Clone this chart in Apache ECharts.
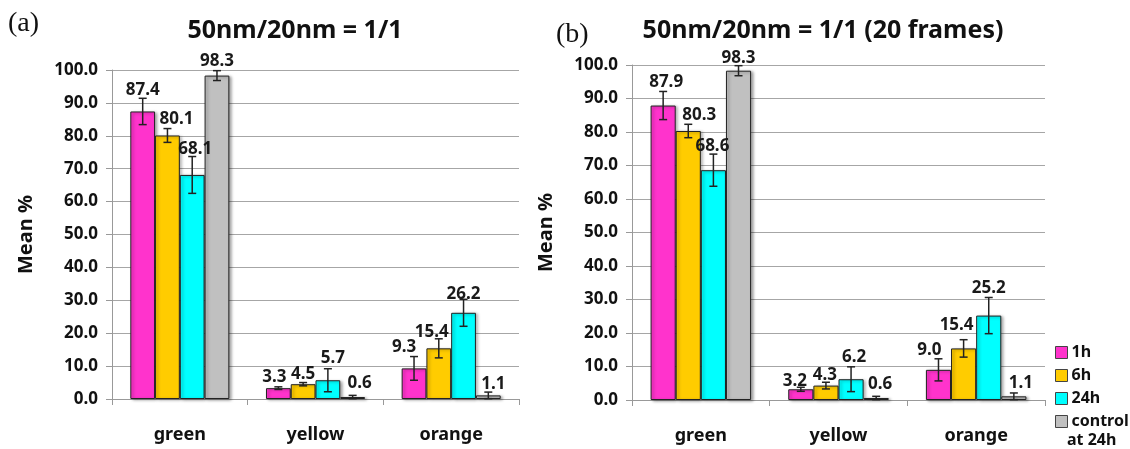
<!DOCTYPE html>
<html>
<head>
<meta charset="utf-8">
<script src="https://cdn.jsdelivr.net/npm/echarts@6/dist/echarts.min.js"></script>
<style>
  html, body { margin: 0; padding: 0; background: #fff; }
  #main { width: 1130px; height: 449px; }
</style>
</head>
<body>
<div id="main"></div>
<script>
// categories and series
var categories = ["green", "yellow", "orange"];
var seriesNames = ["1h", "6h", "24h", "control at 24h"];
var colors = ["#ff33cc", "#ffcc00", "#00ffff", "#c0c0c0"];

// (a) 50nm/20nm = 1/1
var a1h = [87.4, 3.3, 9.3];
var a6h = [80.1, 4.5, 15.4];
var a24h = [68.1, 5.7, 26.2];
var aCtrl = [98.3, 0.6, 1.1];
var aErr1h = [4.0, 0.4, 3.6];
var aErr6h = [2.1, 0.5, 2.9];
var aErr24h = [5.6, 3.5, 4.1];
var aErrCtrl = [1.5, 0.5, 1.0];

// (b) 50nm/20nm = 1/1 (20 frames)
var b1h = [87.9, 3.2, 9.0];
var b6h = [80.3, 4.3, 15.4];
var b24h = [68.6, 6.2, 25.2];
var bCtrl = [98.3, 0.6, 1.1];
var bErr1h = [4.2, 0.6, 3.3];
var bErr6h = [2.0, 1.0, 2.6];
var bErr24h = [4.8, 3.7, 5.4];
var bErrCtrl = [1.5, 0.5, 1.0];

// label nudges [dx, dy] (px) so the value labels sit as in the original
var aShift = [
    [[0, -8], [-4, 3], [-10, -8]],
    [[9, -3], [0, 3], [-7, -3]],
    [[3, -12], [5, -9], [0, -5]],
    [[0, -1], [7, 0], [5, 2]]
];
var bShift = [
    [[3, -10], [-6, 5], [-9, -6]],
    [[11, -2], [-1, 3], [-7, -10]],
    [[-1, -11], [3, -9], [0, -14]],
    [[0, 1], [4, 0], [7, 0]]
];

var gapPct = 27;
var boldFont = "'Noto Sans', 'Open Sans', sans-serif";

function barSeries(name, vals, idx, axisIdx, shifts){
    return {
        name: name,
        type: "bar",
        xAxisIndex: axisIdx,
        yAxisIndex: axisIdx,
        barGap: "0%",
        barCategoryGap: gapPct + "%",
        data: vals.map(function(v, i){
            return { value: v, label: { offset: shifts[i] } };
        }),
        itemStyle: {
            color: colors[idx],
            borderColor: "#222",
            borderWidth: 1,
            shadowColor: "rgba(0,0,0,0.35)",
            shadowBlur: 3,
            shadowOffsetX: 2,
            shadowOffsetY: 1
        },
        label: {
            show: true,
            position: "top",
            distance: 5,
            formatter: function(p){ return p.value.toFixed(1); },
            fontFamily: boldFont,
            fontWeight: "bold",
            fontSize: 17,
            color: "#1a1a1a"
        },
        z: 2
    };
}

function errSeries(vals, errs, idx, axisIdx){
    return {
        type: "custom",
        xAxisIndex: axisIdx,
        yAxisIndex: axisIdx,
        data: vals.map(function(v, i){ return [i, v - errs[i], v + errs[i]]; }),
        renderItem: function(params, api){
            var c = api.value(0);
            var lo = api.coord([c, Math.max(api.value(1), 0)]);
            var hi = api.coord([c, api.value(2)]);
            var catW = api.size([1, 0])[0];
            var bw = catW * (1 - gapPct / 100) / 4;
            var x = lo[0] - 2 * bw + (idx + 0.5) * bw;
            var cap = 4;
            var st = { stroke: "#222", lineWidth: 1.5 };
            return {
                type: "group",
                children: [
                    { type: "line", shape: { x1: x, y1: lo[1], x2: x, y2: hi[1] }, style: st },
                    { type: "line", shape: { x1: x - cap, y1: lo[1], x2: x + cap, y2: lo[1] }, style: st },
                    { type: "line", shape: { x1: x - cap, y1: hi[1], x2: x + cap, y2: hi[1] }, style: st }
                ]
            };
        },
        z: 5
    };
}

function xAx(gi){
    return {
        type: "category",
        gridIndex: gi,
        data: categories,
        axisLine: { lineStyle: { color: "#999", width: 1 } },
        axisTick: { show: true, length: 6, lineStyle: { color: "#999" } },
        axisLabel: {
            margin: 27,
            fontFamily: boldFont,
            fontWeight: "bold",
            fontSize: 18,
            color: "#111"
        }
    };
}

function yAx(gi){
    return {
        type: "value",
        gridIndex: gi,
        min: 0,
        max: 100,
        interval: 10,
        name: "Mean %",
        nameLocation: "middle",
        nameGap: 76,
        nameTextStyle: {
            fontFamily: boldFont,
            fontWeight: "bold",
            fontSize: 20,
            color: "#111"
        },
        axisLine: { show: true, lineStyle: { color: "#999" } },
        axisTick: { show: true, length: 6, inside: false, lineStyle: { color: "#999" } },
        splitLine: { lineStyle: { color: "#a6a6a6", width: 1 } },
        axisLabel: {
            margin: 14,
            formatter: function(v){ return v.toFixed(1); },
            fontFamily: boldFont,
            fontWeight: "bold",
            fontSize: 17,
            color: "#111"
        }
    };
}

var aVals = [a1h, a6h, a24h, aCtrl];
var aErrs = [aErr1h, aErr6h, aErr24h, aErrCtrl];
var bVals = [b1h, b6h, b24h, bCtrl];
var bErrs = [bErr1h, bErr6h, bErr24h, bErrCtrl];

var series = [];
for (var k = 0; k < 4; k++) {
    series.push(barSeries(seriesNames[k], aVals[k], k, 0, aShift[k]));
    series.push(barSeries(seriesNames[k], bVals[k], k, 1, bShift[k]));
}
for (var k = 0; k < 4; k++) {
    series.push(errSeries(aVals[k], aErrs[k], k, 0));
    series.push(errSeries(bVals[k], bErrs[k], k, 1));
}

var chart = echarts.init(document.getElementById("main"), null, { renderer: "canvas" });
chart.setOption({
    animation: false,
    backgroundColor: "#fff",
    title: [
        {
            text: "50nm/20nm = 1/1",
            left: 290, top: 13, textAlign: "center",
            textStyle: { fontFamily: boldFont, fontWeight: "bold", fontSize: 25, color: "#111" }
        },
        {
            text: "50nm/20nm = 1/1 (20 frames)",
            left: 818, top: 13, textAlign: "center",
            textStyle: { fontFamily: boldFont, fontWeight: "bold", fontSize: 25, color: "#111" }
        }
    ],
    graphic: [
        { type: "text", left: 8, top: 10, style: { text: "(a)", font: "28px 'Liberation Serif', serif", fill: "#111" } },
        { type: "text", left: 556, top: 21, style: { text: "(b)", font: "28px 'Liberation Serif', serif", fill: "#111" } },
        { type: "text", left: 1067, top: 432, style: { text: "at 24h", font: "bold 16px 'Noto Sans', sans-serif", fill: "#111" } }
    ],
    legend: {
        orient: "vertical",
        left: 1050,
        top: 338,
        itemWidth: 12,
        itemHeight: 12,
        itemGap: 4,
        icon: "rect",
        data: seriesNames,
        formatter: function(n){ return n === "control at 24h" ? "control" : n; },
        itemStyle: { borderColor: "#444", borderWidth: 1 },
        textStyle: { fontFamily: boldFont, fontWeight: "bold", fontSize: 16, color: "#111", lineHeight: 19, padding: [0, 0, 0, -1] }
    },
    grid: [
        { left: 112, right: 1130 - 519, top: 70, bottom: 449 - 399 },
        { left: 632, right: 1130 - 1045, top: 65, bottom: 449 - 400 }
    ],
    xAxis: [xAx(0), xAx(1)],
    yAxis: [yAx(0), yAx(1)],
    series: series
});
</script>
</body>
</html>
